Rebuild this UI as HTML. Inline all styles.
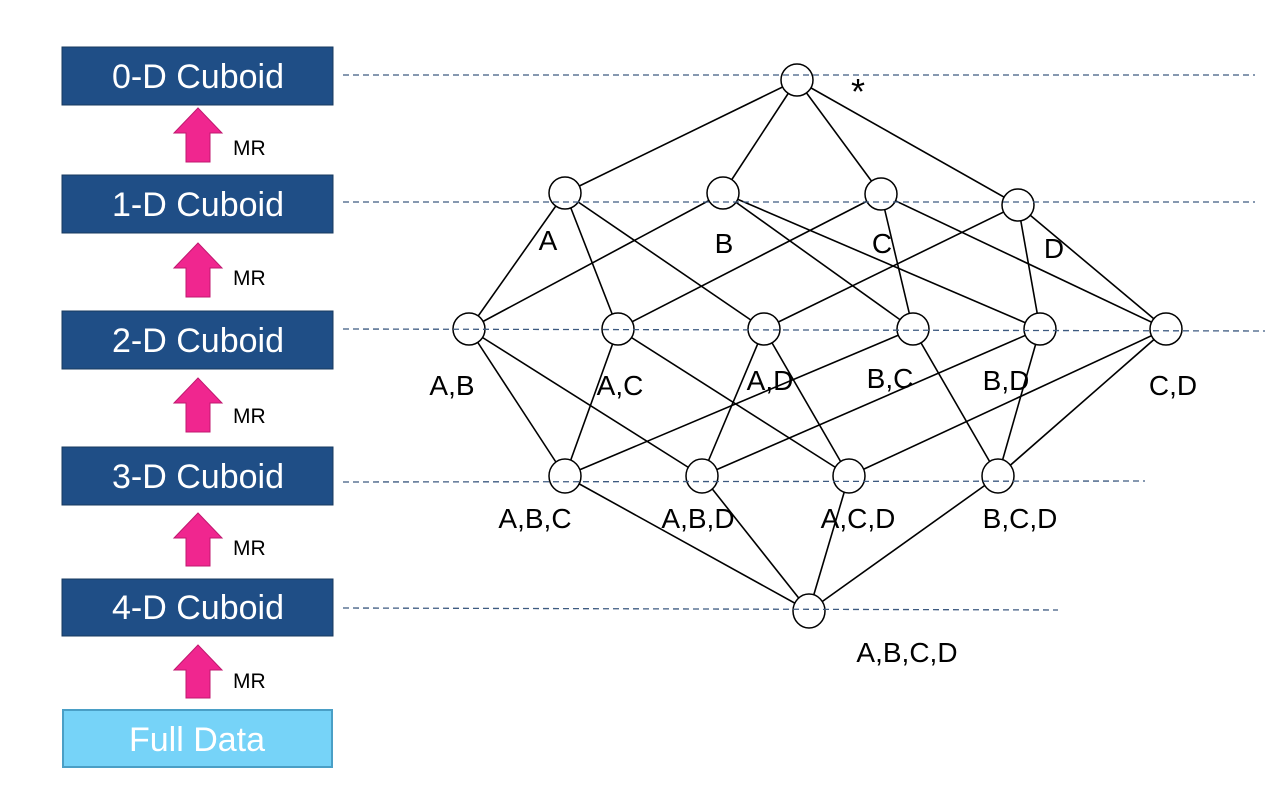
<!DOCTYPE html>
<html><head><meta charset="utf-8"><style>
html,body{margin:0;padding:0;background:#fff;}
svg{display:block;}
</style></head><body>
<svg width="1270" height="809" viewBox="0 0 1270 809" xmlns="http://www.w3.org/2000/svg" font-family="Liberation Sans, sans-serif">
<rect width="1270" height="809" fill="#fff"/>
<!-- left boxes -->
<g fill="#1f4e86" stroke="#17395f" stroke-width="1">
<rect x="62" y="47" width="271" height="58"/>
<rect x="62" y="175" width="271" height="58"/>
<rect x="62" y="311" width="271" height="58"/>
<rect x="62" y="447" width="271" height="58"/>
<rect x="62" y="579" width="271" height="57"/>
</g>
<rect x="63" y="710" width="269" height="57" fill="#76d3f8" stroke="#4a9fc6" stroke-width="2"/>
<g fill="#fff" font-size="34" text-anchor="middle">
<text x="198" y="88">0-D Cuboid</text>
<text x="198" y="216">1-D Cuboid</text>
<text x="198" y="352">2-D Cuboid</text>
<text x="198" y="488">3-D Cuboid</text>
<text x="198" y="619">4-D Cuboid</text>
<text x="197" y="751">Full Data</text>
</g>
<!-- arrows -->
<g fill="#f0268f" stroke="#c0186f" stroke-width="1">
<polygon points="198,108 222,133 210,133 210,162 186,162 186,133 174,133"/>
<polygon points="198,243 222,268 210,268 210,297 186,297 186,268 174,268"/>
<polygon points="198,378 222,403 210,403 210,432 186,432 186,403 174,403"/>
<polygon points="198,513 222,538 210,538 210,566 186,566 186,538 174,538"/>
<polygon points="198,645 222,670 210,670 210,698 186,698 186,670 174,670"/>
</g>
<g fill="#000" font-size="21">
<text x="233" y="155">MR</text>
<text x="233" y="285">MR</text>
<text x="233" y="423">MR</text>
<text x="233" y="555">MR</text>
<text x="233" y="688">MR</text>
</g>
<!-- edges -->
<g stroke="#000" stroke-width="1.6">
<line x1="797" y1="80" x2="565" y2="193"/>
<line x1="797" y1="80" x2="723" y2="193"/>
<line x1="797" y1="80" x2="881" y2="194"/>
<line x1="797" y1="80" x2="1018" y2="205"/>
<line x1="565" y1="193" x2="469" y2="329"/>
<line x1="565" y1="193" x2="618" y2="329"/>
<line x1="565" y1="193" x2="764" y2="329"/>
<line x1="723" y1="193" x2="469" y2="329"/>
<line x1="723" y1="193" x2="913" y2="329"/>
<line x1="723" y1="193" x2="1040" y2="329"/>
<line x1="881" y1="194" x2="618" y2="329"/>
<line x1="881" y1="194" x2="913" y2="329"/>
<line x1="881" y1="194" x2="1166" y2="329"/>
<line x1="1018" y1="205" x2="764" y2="329"/>
<line x1="1018" y1="205" x2="1040" y2="329"/>
<line x1="1018" y1="205" x2="1166" y2="329"/>
<line x1="469" y1="329" x2="565" y2="476"/>
<line x1="469" y1="329" x2="702" y2="476"/>
<line x1="618" y1="329" x2="565" y2="476"/>
<line x1="618" y1="329" x2="849" y2="476"/>
<line x1="764" y1="329" x2="702" y2="476"/>
<line x1="764" y1="329" x2="849" y2="476"/>
<line x1="913" y1="329" x2="565" y2="476"/>
<line x1="913" y1="329" x2="998" y2="476"/>
<line x1="1040" y1="329" x2="702" y2="476"/>
<line x1="1040" y1="329" x2="998" y2="476"/>
<line x1="1166" y1="329" x2="849" y2="476"/>
<line x1="1166" y1="329" x2="998" y2="476"/>
<line x1="565" y1="476" x2="809" y2="611"/>
<line x1="702" y1="476" x2="809" y2="611"/>
<line x1="849" y1="476" x2="809" y2="611"/>
<line x1="998" y1="476" x2="809" y2="611"/>
</g>
<!-- nodes -->
<g fill="#fff" stroke="#000" stroke-width="1.5">
<circle cx="797" cy="80" r="16"/>
<circle cx="565" cy="193" r="16"/>
<circle cx="723" cy="193" r="16"/>
<circle cx="881" cy="194" r="16"/>
<circle cx="1018" cy="205" r="16"/>
<circle cx="469" cy="329" r="16"/>
<circle cx="618" cy="329" r="16"/>
<circle cx="764" cy="329" r="16"/>
<circle cx="913" cy="329" r="16"/>
<circle cx="1040" cy="329" r="16"/>
<circle cx="1166" cy="329" r="16"/>
<ellipse cx="565" cy="476" rx="16" ry="17"/>
<ellipse cx="702" cy="476" rx="16" ry="17"/>
<ellipse cx="849" cy="476" rx="16" ry="17"/>
<ellipse cx="998" cy="476" rx="16" ry="17"/>
<ellipse cx="809" cy="611" rx="16" ry="17"/>
</g>
<!-- dashed lines (on top, pass through nodes) -->
<g stroke="#3d5a80" stroke-width="1.3" stroke-dasharray="6,4">
<line x1="343" y1="75" x2="1255" y2="75"/>
<line x1="343" y1="202" x2="1255" y2="202"/>
<line x1="343" y1="329" x2="1265" y2="331"/>
<line x1="343" y1="482" x2="1145" y2="481"/>
<line x1="343" y1="608" x2="1058" y2="610"/>
</g>
<!-- labels -->
<g fill="#000" font-size="28" text-anchor="middle">
<text x="858" y="104" font-size="36" font-weight="normal">*</text>
<text x="548" y="250">A</text>
<text x="724" y="253">B</text>
<text x="882" y="253">C</text>
<text x="1054" y="258">D</text>
<text x="452" y="395">A,B</text>
<text x="620" y="395">A,C</text>
<text x="770" y="390">A,D</text>
<text x="890" y="388">B,C</text>
<text x="1006" y="390">B,D</text>
<text x="1173" y="395">C,D</text>
<text x="535" y="528">A,B,C</text>
<text x="698" y="528">A,B,D</text>
<text x="858" y="528">A,C,D</text>
<text x="1020" y="528">B,C,D</text>
<text x="907" y="662">A,B,C,D</text>
</g>
</svg>
</body></html>
